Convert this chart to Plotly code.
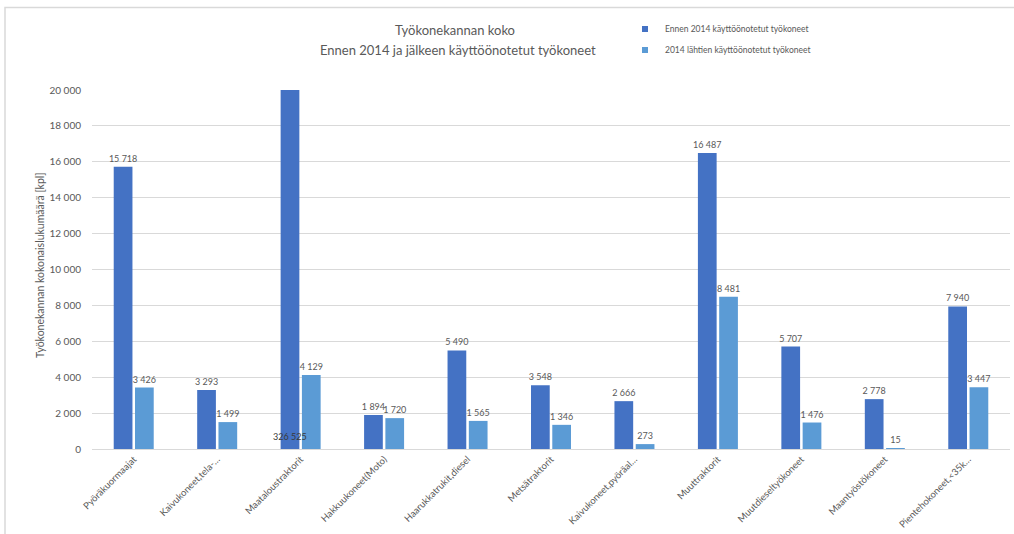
import plotly.graph_objects as go

# Machine categories (x axis)
categories = [
    "Pyöräkuormaajat",
    "Kaivukoneet,tela-…",
    "Maataloustraktorit",
    "Hakkuukoneet(Moto)",
    "Haarukkatrukit,diesel",
    "Metsätraktorit",
    "Kaivukoneet,pyöräal…",
    "Muuttraktorit",
    "Muutdieseltyökoneet",
    "Maantyöstökoneet",
    "Pientehokoneet,<35k…",
]

# Machines taken into use before 2014
before_2014 = [15718, 3293, 326525, 1894, 5490, 3548, 2666, 16487, 5707, 2778, 7940]
# Machines taken into use 2014 onwards
since_2014 = [3426, 1499, 4129, 1720, 1565, 1346, 273, 8481, 1476, 15, 3447]

series_names = [
    "Ennen 2014 käyttöönotetut työkoneet",
    "2014 lähtien käyttöönotetut työkoneet",
]
colors = ["#4472C4", "#5B9BD5"]

title_lines = [
    "Työkonekannan koko",
    "Ennen 2014 ja jälkeen käyttöönotetut työkoneet",
]
y_title = "Työkonekannan kokonaislukumäärä [kpl]"

Y_MAX = 20000
Y_STEP = 2000
BARGAP = 0.49
BARGROUPGAP = 0.12

GREY = "#595959"
FONT = "Lato"


def fmt(v):
    return f"{v:,}".replace(",", " ")


def labels(values):
    # values that run past the axis top get their label at the base instead
    return [fmt(v) if v <= Y_MAX else "" for v in values]


fig = go.Figure()

for name, vals, col, grp in zip(series_names, [before_2014, since_2014], colors, ["a", "b"]):
    fig.add_trace(go.Bar(
        x=categories,
        y=vals,
        name=name,
        marker=dict(color=col, line=dict(width=0)),
        text=labels(vals),
        texttemplate="%{text}",
        textposition="outside",
        textangle=0,
        constraintext="none",
        textfont=dict(family=FONT, size=9, color=GREY),
        cliponaxis=True,
        legendgroup=grp,
        showlegend=False,
        hovertemplate="%{x}: %{y:,}<extra></extra>",
    ))
    # small square legend keys
    fig.add_trace(go.Scatter(
        x=[None], y=[None], mode="markers", name=name,
        marker=dict(symbol="square", size=6, color=col),
        legendgroup=grp, showlegend=True,
    ))

M_L, M_R, M_T, M_B = 92, 4, 90, 83
W, H = 1014, 534
plot_w = W - M_L - M_R
plot_h = H - M_T - M_B


def px_x(px):
    return (px - M_L) / plot_w


def px_y(py):
    return (H - M_B - py) / plot_h


# Base labels for bars clipped at the axis top
cat_w = plot_w / len(categories)
slot = cat_w * (1 - BARGAP) / 2
for series_idx, vals in enumerate([before_2014, since_2014]):
    offset = (series_idx - 0.5) * slot
    for cat, v in zip(categories, vals):
        if v > Y_MAX:
            fig.add_annotation(
                x=cat, y=0, xref="x", yref="y",
                text=fmt(v), showarrow=False,
                xanchor="center", yanchor="bottom",
                xshift=offset, yshift=5,
                font=dict(family=FONT, size=9, color="#3a3a3a"),
            )

# Two-line chart title
for line, (cx, cy) in zip(title_lines, [(455, 30), (458, 50)]):
    fig.add_annotation(
        x=px_x(cx), y=px_y(cy), xref="paper", yref="paper",
        text=line, showarrow=False, xanchor="center", yanchor="middle",
        font=dict(family=FONT, size=13, color=GREY),
    )

# Y axis title
fig.add_annotation(
    x=px_x(40), y=0.51, xref="paper", yref="paper",
    text=y_title, showarrow=False,
    textangle=-90, xanchor="center", yanchor="middle",
    font=dict(family=FONT, size=10.5, color=GREY),
)

# light frame around the chart
fig.add_shape(
    type="rect", xref="paper", yref="paper",
    x0=px_x(5), x1=px_x(W + 10),
    y0=px_y(H + 10), y1=px_y(7),
    line=dict(color="#d9d9d9", width=1.5), fillcolor="rgba(0,0,0,0)",
    layer="below",
)

fig.update_layout(
    width=W, height=H,
    margin=dict(l=M_L, r=M_R, t=M_T, b=M_B, pad=0),
    paper_bgcolor="white", plot_bgcolor="white",
    separators=", ",
    barmode="group", bargap=BARGAP, bargroupgap=BARGROUPGAP,
    font=dict(family=FONT, color=GREY),
    legend=dict(
        x=px_x(625), y=px_y(14),
        xanchor="left", yanchor="top",
        font=dict(family=FONT, size=8.5, color=GREY),
        tracegroupgap=2, bgcolor="rgba(0,0,0,0)",
    ),
    xaxis=dict(
        tickangle=-45,
        tickfont=dict(family=FONT, size=9.5, color=GREY),
        showline=True, linecolor="#d9d9d9", linewidth=1,
        showgrid=False, ticks="",
    ),
    yaxis=dict(
        range=[0, Y_MAX], dtick=Y_STEP, tick0=0,
        tickformat=",d",
        tickfont=dict(family=FONT, size=10, color=GREY),
        showgrid=True, gridcolor="#d9d9d9", gridwidth=1,
        zeroline=False, showline=False, ticks="",
        ticklabelstandoff=10,
    ),
)

fig.write_html("out.html")
